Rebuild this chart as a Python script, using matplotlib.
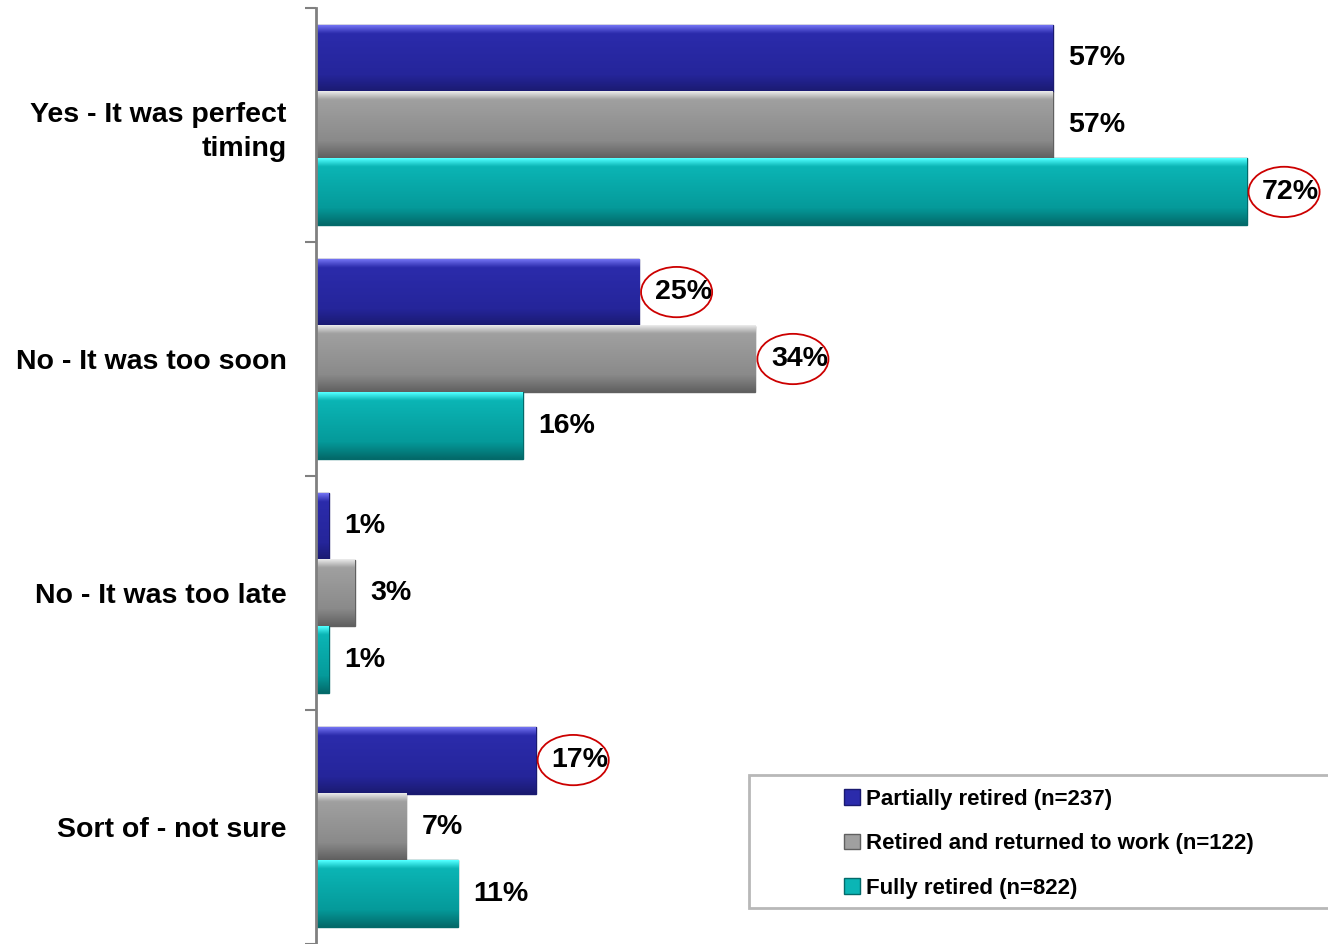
import numpy as np
import matplotlib
matplotlib.use('Agg')
import matplotlib.pyplot as plt
from matplotlib.patches import Ellipse, Rectangle
from matplotlib.colors import LinearSegmentedColormap

categories = ['Yes - It was perfect\ntiming', 'No - It was too soon',
              'No - It was too late', 'Sort of - not sure']
series_names = ['Partially retired (n=237)', 'Retired and returned to work (n=122)',
                'Fully retired (n=822)']
partially = [57, 25, 1, 17]
returned = [57, 34, 3, 7]
fully = [72, 16, 1, 11]
# (series index, category index) labels circled in red
circled = [(2, 0), (0, 1), (1, 1), (0, 3)]

# top highlight, body, lower body, bottom shade
shades = [
    ['#7070f0', '#2b2bab', '#25259a', '#1a1a70'],
    ['#e8e8e8', '#a0a0a0', '#8a8a8a', '#606060'],
    ['#50ffff', '#0bb5b5', '#059a9a', '#036a6a'],
]

plt.rcParams['font.family'] = ['Liberation Sans', 'DejaVu Sans']
plt.rcParams['font.weight'] = 'bold'

fig = plt.figure(figsize=(13.28, 9.44), dpi=100)
ax = fig.add_axes([316 / 1328, 0, 1012 / 1328, 936 / 944])

h = 0.286
y = np.arange(len(categories)) + 0.5
all_vals = [partially, returned, fully]
for s, vals in enumerate(all_vals):
    pos = y + (s - 1) * h
    bars = ax.barh(pos, vals, height=h, color=shades[s][1], label=series_names[s],
                   edgecolor=shades[s][3], linewidth=1, zorder=2)
    cmap = LinearSegmentedColormap.from_list(
        'g%d' % s, [(0, shades[s][0]), (0.12, shades[s][1]), (0.75, shades[s][2]), (1, shades[s][3])])
    grad = np.linspace(0, 1, 64).reshape(-1, 1)
    for b, v in zip(bars, vals):
        x0, y0 = b.get_x(), b.get_y()
        ax.imshow(grad, cmap=cmap, aspect='auto', zorder=2.5,
                  extent=(x0, x0 + b.get_width(), y0 + b.get_height(), y0))
        ax.text(v + 1.2, y0 + b.get_height() / 2, '%d%%' % v, va='center', ha='left',
                fontsize=20.5, fontweight='bold', color='black', zorder=4)
    for (si, ci) in circled:
        if si == s:
            v = vals[ci]
            ax.add_patch(Ellipse((v + 2.9, pos[ci]), 5.5, 0.215, fill=False,
                                 edgecolor='#cc0000', linewidth=1.3, zorder=5))

ax.set_xlim(0, 78.3)
ax.set_ylim(len(categories), 0)
ax.set_xticks([])
ax.set_yticks(np.arange(len(categories) + 1))
ax.set_yticklabels([])
ax.set_yticks(y, minor=True)
ax.set_yticklabels(categories, minor=True, fontsize=20.5, fontweight='bold',
                   linespacing=1.4)
ax.tick_params(axis='y', which='major', length=8, width=1.5, color='#808080', direction='out')
ax.tick_params(axis='y', which='minor', length=0, pad=21)
for t in ax.get_yticklabels(minor=True):
    t.set_ha('right')
for sp in ['top', 'right', 'bottom']:
    ax.spines[sp].set_visible(False)
ax.spines['left'].set_color('#808080')
ax.spines['left'].set_linewidth(2)
ax.set_facecolor('none')

# legend frame, running off the right edge like the original
fig.add_artist(Rectangle((749 / 1328, (944 - 908) / 944), 600 / 1328, 133 / 944,
                         transform=fig.transFigure, facecolor='white',
                         edgecolor='#b8b8b8', linewidth=2, zorder=6))
leg = fig.legend(loc='upper left', bbox_to_anchor=(844 / 1328, (944 - 789) / 944),
                 frameon=False, fontsize=16,
                 handlelength=0.7, handleheight=0.7, handletextpad=0.3,
                 labelspacing=1.05, borderpad=0, borderaxespad=0)
leg.set_zorder(7)
for t in leg.get_texts():
    t.set_fontweight('bold')

fig.savefig('out.png', dpi=100)
